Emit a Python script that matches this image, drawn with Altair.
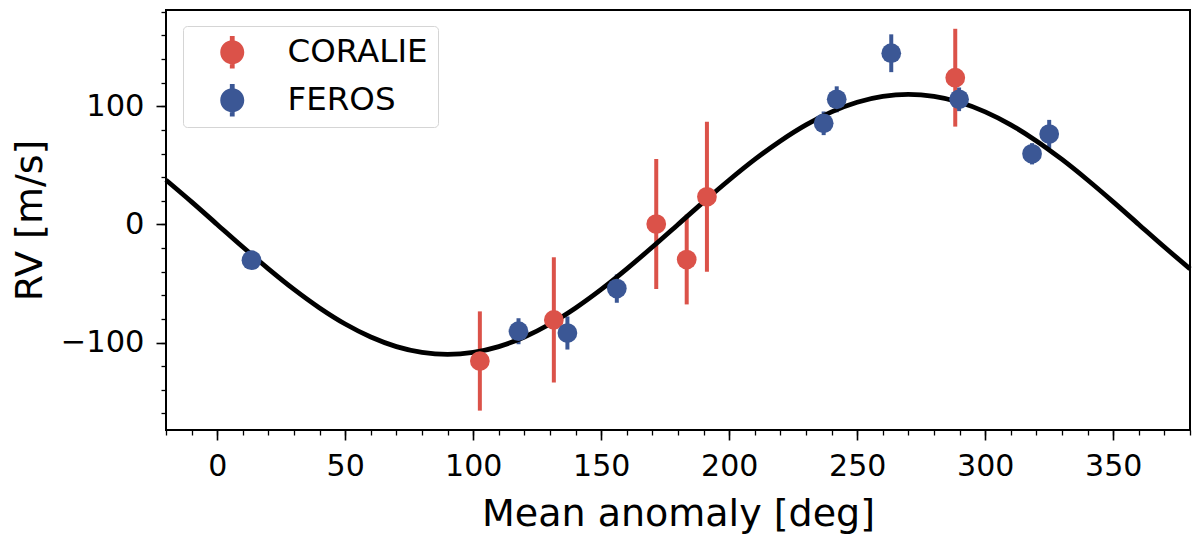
import altair as alt
import pandas as pd

coralie_m = [102.6, 131.5, 171.5, 183.4, 191.3, 288.3]
coralie_rv = [-115.6, -80.8, 0.3, -29.7, 23.4, 124.2]
coralie_err = [42, 53, 55, 38, 63.5, 41.4]

feros_m = [13.4, 117.7, 136.8, 156.1, 236.9, 242.0, 263.3, 289.8, 318.3, 325.0]
feros_rv = [-30.3, -90.4, -91.9, -54.3, 85.6, 105.9, 144.9, 105.9, 59.8, 76.5]
feros_err = [5, 11, 14, 12, 10, 11, 16, 10, 9, 12]

# model curve, read every 10 deg
curve_m = list(range(-20, 390, 10))
curve_rv = [37.6, 19.1, 0.0, -19.1, -37.6, -55.0, -70.7, -84.3, -95.3, -103.4,
            -108.3, -110.0, -108.3, -103.4, -95.3, -84.3, -70.7, -55.0, -37.6, -19.1,
            0.0, 19.1, 37.6, 55.0, 70.7, 84.3, 95.3, 103.4, 108.3, 110.0,
            108.3, 103.4, 95.3, 84.3, 70.7, 55.0, 37.6, 19.1, 0.0, -19.1, -37.6]

major_x = [0, 50, 100, 150, 200, 250, 300, 350]
minor_x = list(range(-20, 390, 10))
major_y = [-100, 0, 100]
minor_y = list(range(-160, 200, 20))

pts = pd.DataFrame({
    'm': coralie_m + feros_m,
    'rv': coralie_rv + feros_rv,
    'err': coralie_err + feros_err,
    'inst': ['CORALIE'] * len(coralie_m) + ['FEROS'] * len(feros_m),
})
pts['lo'] = pts['rv'] - pts['err']
pts['hi'] = pts['rv'] + pts['err']
curve = pd.DataFrame({'m': curve_m, 'rv': curve_rv})

xs = alt.Scale(domain=[-20, 380], nice=False, zero=False)
ys = alt.Scale(domain=[-174, 181.5], nice=False, zero=False)
cs = alt.Scale(domain=['CORALIE', 'FEROS'], range=['#db5249', '#3b5795'])

ax_font = 'DejaVu Sans'

x_major = alt.Axis(values=major_x, orient='bottom', title='Mean anomaly [deg]',
                   tickSize=10, tickWidth=1.6, labelFontSize=30, labelPadding=11,
                   titleFontSize=38, titleFontWeight='normal', titleBaseline='alphabetic',
                   titleY=95, grid=False, domain=False, labelFlush=False)
y_major = alt.Axis(values=major_y, orient='left', title='RV [m/s]',
                   tickSize=10, tickWidth=1.6, labelFontSize=30.5, labelPadding=12,
                   titleFontSize=38, titleFontWeight='normal', titleBaseline='alphabetic',
                   titleX=-125, grid=False, domain=False, labelFlush=False)
x_minor = alt.Axis(values=minor_x, orient='bottom', title=None, labels=False,
                   tickSize=5, tickWidth=1.3, grid=False, domain=False)
y_minor = alt.Axis(values=minor_y, orient='left', title=None, labels=False,
                   tickSize=5, tickWidth=1.3, grid=False, domain=False)

bars = alt.Chart(pts).mark_rule(strokeWidth=4).encode(
    x=alt.X('m:Q', scale=xs, axis=x_major),
    y=alt.Y('lo:Q', scale=ys, axis=y_major),
    y2='hi:Q',
    color=alt.Color('inst:N', scale=cs, legend=None),
)

line = alt.Chart(curve).mark_line(color='black', strokeWidth=4.8, interpolate='monotone').encode(
    x=alt.X('m:Q', scale=xs, axis=x_minor),
    y=alt.Y('rv:Q', scale=ys, axis=y_minor),
)

legend_symbol = ('M-1,0 A1,1 0 1,1 1,0 A1,1 0 1,1 -1,0 Z '
                 'M-0.2,-1.35 L0.2,-1.35 L0.2,1.35 L-0.2,1.35 Z')

dots = alt.Chart(pts).mark_point(filled=True, shape='circle', size=390, opacity=1).encode(
    x=alt.X('m:Q', scale=xs, axis=None),
    y=alt.Y('rv:Q', scale=ys, axis=None),
    color=alt.Color('inst:N', scale=cs, legend=alt.Legend(
        title=None, orient='none', legendX=17, legendY=16,
        padding=10, rowPadding=15, symbolType=legend_symbol, symbolSize=576,
        symbolStrokeWidth=0, symbolOffset=23, labelOffset=39,
        labelFontSize=32.5, labelFont=ax_font, labelColor='black',
        strokeColor='#d5d5d5', fillColor='white', cornerRadius=4)),
)

chart = alt.layer(bars, line, dots).resolve_axis(
    x='independent', y='independent'
).resolve_legend(color='independent').properties(
    width=1024, height=420,
    autosize=alt.AutoSizeParams(type='none'),
    padding={'left': 158, 'top': 2, 'right': 2, 'bottom': 110},
).configure_view(
    stroke='black', strokeWidth=2
).configure_axis(
    labelFont=ax_font, titleFont=ax_font, labelColor='black', titleColor='black',
    tickColor='black'
)

chart.save("out.html", embed_options={"renderer": "svg", "actions": False})
